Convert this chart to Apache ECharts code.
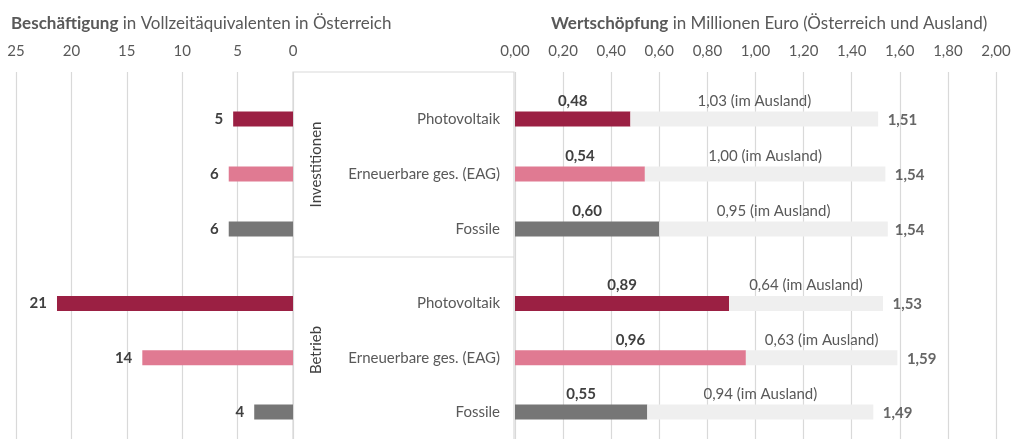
<!DOCTYPE html>
<html>
<head>
<meta charset="utf-8">
<script src="https://cdn.jsdelivr.net/npm/echarts@6/dist/echarts.min.js"></script>
<style>
  html, body { margin: 0; padding: 0; background: #fff; }
  #chart { width: 1015px; height: 439px; }
</style>
</head>
<body>
<div id="chart"></div>
<script>
// Kategorien
var categories = ["Photovoltaik", "Erneuerbare ges. (EAG)", "Fossile"];
var groups = ["Investitionen", "Betrieb"];

// Beschäftigung (VZÄ in Österreich)
var jobsInvest = [5.4, 5.8, 5.8];
var jobsBetrieb = [21.3, 13.6, 3.5];

// Wertschöpfung (Mio. Euro)
var wsInlandInvest = [0.48, 0.54, 0.60];
var wsAuslandInvest = [1.03, 1.00, 0.95];
var wsTotalInvest = [1.51, 1.54, 1.54];
var wsInlandBetrieb = [0.89, 0.96, 0.55];
var wsAuslandBetrieb = [0.64, 0.63, 0.94];
var wsTotalBetrieb = [1.53, 1.59, 1.49];

var barColors = ["#9b2043", "#e07a92", "#767676"];
var auslandColor = "#efefef";
var fontFamily = "Lato";
var fs = 15;

function fmt(v) {
  return Number(v).toFixed(2).replace(".", ",");
}

var chart = echarts.init(document.getElementById("chart"));

// grid indices: 0 left axis, 1 left top, 2 left bottom, 3 right axis, 4 right top, 5 right bottom
var leftPos = { left: 16, right: 722 };
var rightPos = { left: 515, right: 19 };
var topGroup = { top: 91.5, height: 165 };
var bottomGroup = { top: 276.5, height: 165 };

function grid(pos, v) {
  return { left: pos.left, right: pos.right, top: v.top, height: v.height };
}

var leftX = { type: "value", min: 0, max: 25, interval: 5, inverse: true };
var rightX = { type: "value", min: 0, max: 2, interval: 0.2 };

function axisX(base, gridIndex, fmtFn) {
  return Object.assign({}, base, {
    gridIndex: gridIndex,
    position: "top",
    axisLine: { show: false },
    axisTick: { show: false },
    splitLine: { show: true, lineStyle: { color: "#d9d9d9", width: 1.2 } },
    axisLabel: { color: "#595959", fontSize: fs, fontFamily: fontFamily, margin: 13, formatter: fmtFn }
  });
}
function hiddenX(base, gridIndex) {
  return Object.assign({}, base, { gridIndex: gridIndex, show: false, splitLine: { show: false } });
}
function catY(gridIndex, showLabels) {
  return {
    type: "category",
    gridIndex: gridIndex,
    data: categories,
    inverse: true,
    z: 5,
    axisLine: { show: false },
    axisTick: { show: false },
    axisLabel: {
      show: showLabels,
      color: "#595959",
      fontSize: fs,
      fontFamily: fontFamily,
      margin: 15
    }
  };
}

function jobSeries(gridIdx, values) {
  return {
    type: "bar",
    xAxisIndex: gridIdx,
    yAxisIndex: gridIdx,
    barWidth: 15,
    data: values.map(function (v, i) {
      return { value: v, itemStyle: { color: barColors[i] } };
    }),
    label: {
      show: true,
      position: "left",
      distance: 10,
      fontWeight: "bold",
      fontSize: fs,
      fontFamily: fontFamily,
      color: "#404040",
      formatter: function (p) { return Math.round(p.value); }
    }
  };
}

function wsSeries(gridIdx, inland, ausland, total, stackName) {
  return [
    {
      type: "bar",
      xAxisIndex: gridIdx,
      yAxisIndex: gridIdx,
      stack: stackName,
      barWidth: 15,
      data: inland.map(function (v, i) {
        return { value: v, itemStyle: { color: barColors[i] } };
      }),
      label: {
        show: true,
        position: "top",
        distance: 3,
        fontWeight: "bold",
        fontSize: fs,
        fontFamily: fontFamily,
        color: "#404040",
        formatter: function (p) { return fmt(p.value); }
      }
    },
    {
      type: "bar",
      xAxisIndex: gridIdx,
      yAxisIndex: gridIdx,
      stack: stackName,
      barWidth: 15,
      itemStyle: { color: auslandColor },
      data: ausland,
      label: {
        show: true,
        position: "top",
        distance: 3,
        fontSize: fs,
        fontFamily: fontFamily,
        color: "#595959",
        formatter: function (p) { return fmt(p.value) + " (im Ausland)"; }
      }
    },
    {
      type: "scatter",
      xAxisIndex: gridIdx,
      yAxisIndex: gridIdx,
      symbolSize: 1,
      itemStyle: { color: "rgba(0,0,0,0)" },
      data: total.map(function (v, i) { return [v, categories[i]]; }),
      label: {
        show: true,
        position: "right",
        distance: 9,
        offset: [0, 1],
        fontWeight: "bold",
        fontSize: fs,
        fontFamily: fontFamily,
        color: "#404040",
        formatter: function (p) { return fmt(p.value[0]); }
      }
    }
  ];
}

var titleStyle = {
  color: "#595959",
  fontSize: 17,
  fontWeight: "normal",
  fontFamily: fontFamily,
  rich: { b: { fontWeight: "bold", color: "#595959", fontSize: 17, fontFamily: fontFamily } }
};

chart.setOption({
  animation: false,
  title: [
    { text: "{b|Beschäftigung} in Vollzeitäquivalenten in Österreich", left: 6, top: 10, textStyle: titleStyle },
    { text: "{b|Wertschöpfung} in Millionen Euro (Österreich und Ausland)", left: 546, top: 10, textStyle: titleStyle }
  ],
  grid: [
    { left: leftPos.left, right: leftPos.right, top: 72, bottom: -5 },
    grid(leftPos, topGroup),
    grid(leftPos, bottomGroup),
    { left: rightPos.left, right: rightPos.right, top: 72, bottom: -5 },
    grid(rightPos, topGroup),
    grid(rightPos, bottomGroup)
  ],
  xAxis: [
    axisX(leftX, 0, function (v) { return v; }),
    hiddenX(leftX, 1),
    hiddenX(leftX, 2),
    axisX(rightX, 3, function (v) { return fmt(v); }),
    hiddenX(rightX, 4),
    hiddenX(rightX, 5)
  ],
  yAxis: [
    { type: "value", gridIndex: 0, show: false },
    catY(1, false),
    catY(2, false),
    { type: "value", gridIndex: 3, show: false },
    catY(4, true),
    catY(5, true)
  ],
  graphic: [
    {
      type: "rect",
      z: 1,
      silent: true,
      shape: { x: 293, y: 72, width: 221, height: 400 },
      style: { fill: "rgba(255,255,255,0)", stroke: "#d9d9d9", lineWidth: 1.2 }
    },
    {
      type: "line",
      z: 1,
      shape: { x1: 293, y1: 257, x2: 514, y2: 257 },
      style: { stroke: "#d9d9d9", lineWidth: 1.2 }
    },
    {
      type: "text",
      z: 3,
      x: 316,
      y: 164.5,
      rotation: Math.PI / 2,
      style: { text: groups[0], fill: "#404040", fontSize: fs, fontFamily: fontFamily, align: "center", verticalAlign: "middle" }
    },
    {
      type: "text",
      z: 3,
      x: 316,
      y: 350,
      rotation: Math.PI / 2,
      style: { text: groups[1], fill: "#404040", fontSize: fs, fontFamily: fontFamily, align: "center", verticalAlign: "middle" }
    }
  ],
  series: [jobSeries(1, jobsInvest), jobSeries(2, jobsBetrieb)]
    .concat(wsSeries(4, wsInlandInvest, wsAuslandInvest, wsTotalInvest, "inv"))
    .concat(wsSeries(5, wsInlandBetrieb, wsAuslandBetrieb, wsTotalBetrieb, "bet"))
});
</script>
</body>
</html>
